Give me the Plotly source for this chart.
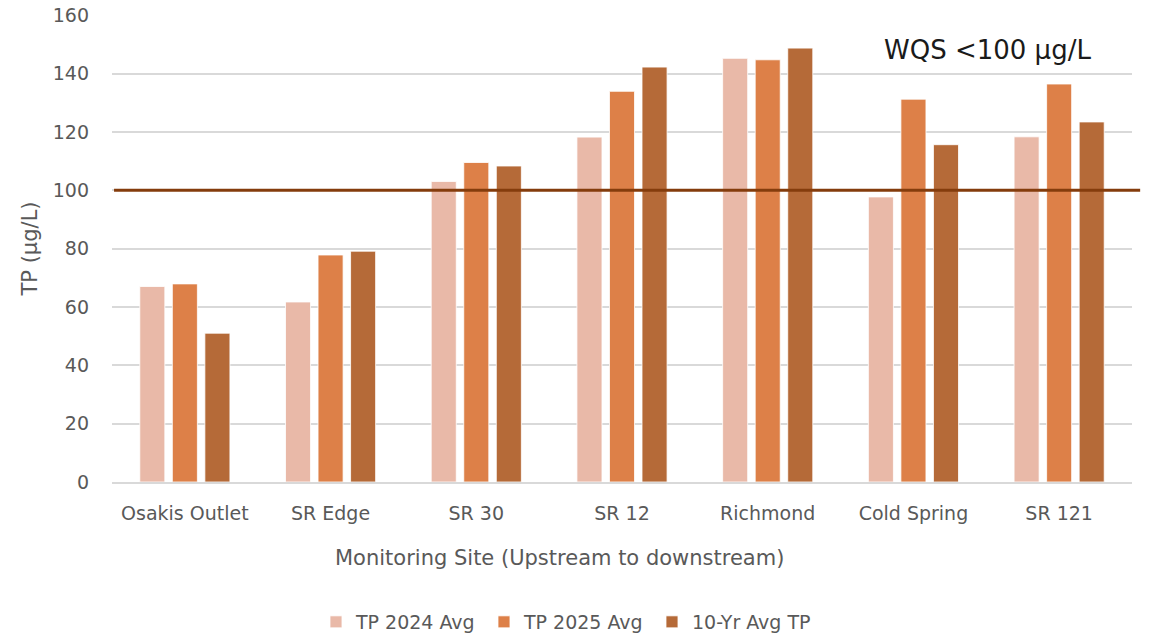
import plotly.graph_objects as go

sites = ["Osakis Outlet", "SR Edge", "SR 30", "SR 12", "Richmond", "Cold Spring", "SR 121"]
tp_2024 = [67.0, 61.7, 103.0, 118.2, 145.2, 97.7, 118.3]
tp_2025 = [67.9, 77.8, 109.5, 133.9, 144.7, 131.2, 136.4]
tp_10yr = [51.0, 79.1, 108.3, 142.2, 148.7, 115.6, 123.4]
series_names = ["TP 2024 Avg", "TP 2025 Avg", "10-Yr Avg TP"]
series_colors = ["#E9B9A8", "#DD8048", "#B56A38"]
wqs = 100
y_ticks = [0, 20, 40, 60, 80, 100, 120, 140, 160]

FONT = "DejaVu Sans, Verdana, sans-serif"
GRAY = "#595959"

fig = go.Figure()
for name, vals, col in zip(series_names, [tp_2024, tp_2025, tp_10yr], series_colors):
    fig.add_trace(go.Bar(
        x=sites, y=vals, name=name,
        marker=dict(color=col, line=dict(color="rgba(255,255,255,0.8)", width=1)),
    ))

fig.add_shape(type="line", xref="paper", yref="y", x0=0.002, x1=1.008, y0=wqs, y1=wqs,
              line=dict(color="#843C0C", width=3), layer="above")

fig.add_annotation(xref="paper", yref="paper", x=0.858, y=0.925, text="WQS &lt;100 µg/L",
                   showarrow=False, font=dict(family=FONT, size=26, color="#1a1a1a"),
                   xanchor="center", yanchor="middle")

fig.add_annotation(xref="paper", yref="paper", x=0.4392, y=-0.1627,
                   text="Monitoring Site (Upstream to downstream)",
                   showarrow=False, font=dict(family=FONT, size=21, color=GRAY),
                   xanchor="center", yanchor="middle")

fig.add_annotation(xref="paper", yref="paper", x=-0.0804, y=0.5, text="TP (µg/L)",
                   textangle=-90, showarrow=False, font=dict(family=FONT, size=21, color=GRAY),
                   xanchor="center", yanchor="middle")

fig.update_layout(
    width=1152, height=635,
    margin=dict(l=112, r=20, t=15, b=153),
    paper_bgcolor="white", plot_bgcolor="white",
    barmode="group", bargap=0.33, bargroupgap=0.23,
    font=dict(family=FONT, color=GRAY, size=19),
    showlegend=True,
    legend=dict(orientation="h", xref="container", yref="container",
                x=0.2743, xanchor="left", y=0.0205, yanchor="middle",
                font=dict(family=FONT, size=19, color=GRAY),
                itemwidth=30, entrywidth=123, traceorder="normal",
                bgcolor="rgba(0,0,0,0)"),
    xaxis=dict(
        showgrid=False, showline=True, linecolor="#D9D9D9", linewidth=1.5,
        ticks="", tickfont=dict(family=FONT, size=19, color=GRAY),
        ticklabelstandoff=13, automargin=False,
    ),
    yaxis=dict(
        range=[0, 160.05], tickvals=y_ticks, showgrid=True, gridcolor="#D9D9D9", gridwidth=1.5,
        zeroline=False, showline=False, ticks="",
        tickfont=dict(family=FONT, size=19, color=GRAY), ticklabelstandoff=22,
        ticklabeloverflow="allow", automargin=False,
    ),
)

fig.write_html("out.html", config={"displayModeBar": False},
               post_script="document.body.style.margin='0';document.body.style.overflow='hidden';")
